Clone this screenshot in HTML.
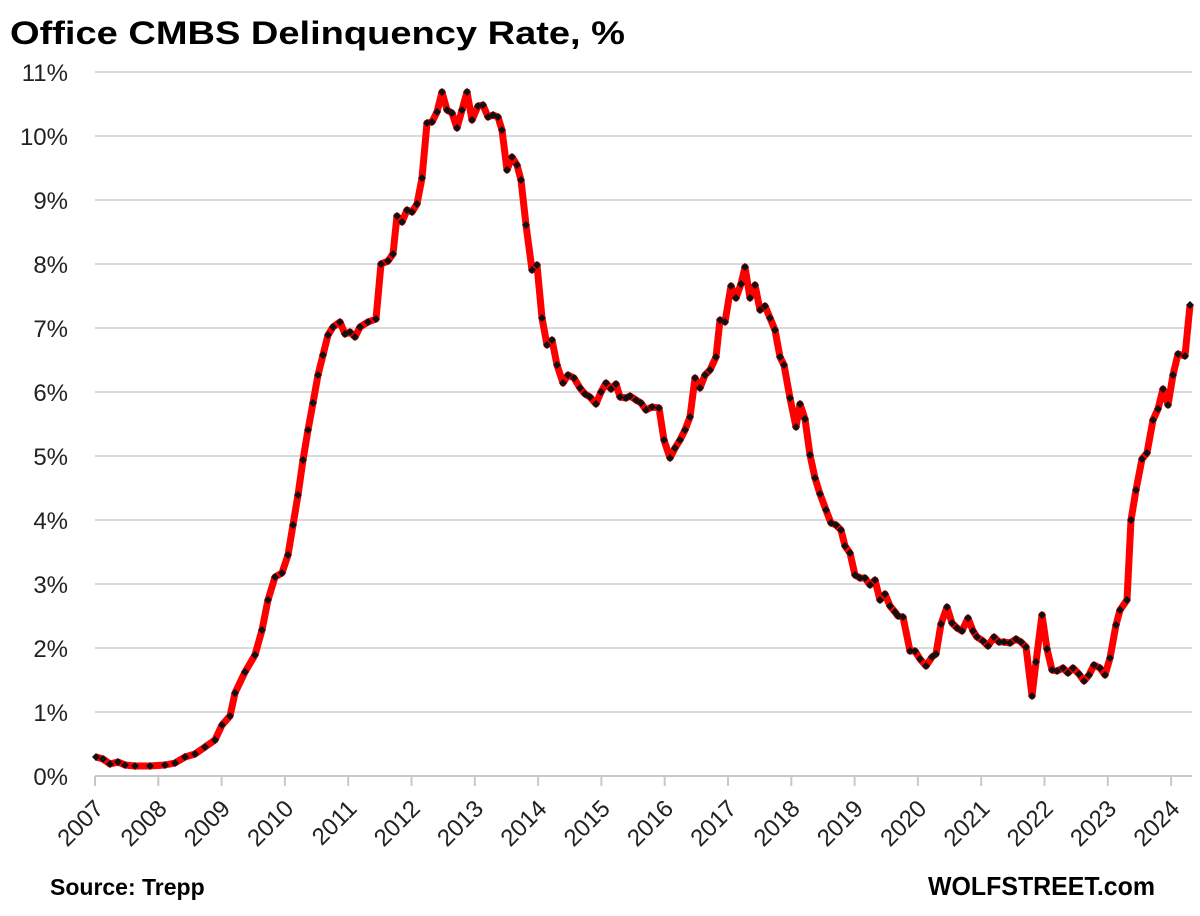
<!DOCTYPE html>
<html><head><meta charset="utf-8"><style>body{margin:0;background:#fff}svg{display:block}</style></head>
<body>
<svg id="c" width="1200" height="916" xmlns="http://www.w3.org/2000/svg" font-family="Liberation Sans, sans-serif">
<rect width="1200" height="916" fill="#fff"/>
<text x="10" y="44" font-size="32" font-weight="bold" fill="#000" textLength="615" lengthAdjust="spacingAndGlyphs">Office CMBS Delinquency Rate, %</text>
<g id="grid"></g>
<g id="lab" font-size="24" fill="#222"></g>
<path id="line" fill="none" stroke="#ff0000" stroke-width="7" stroke-linejoin="round"/>
<g id="mk" fill="#111"></g>
<text x="50" y="895" font-size="23" font-weight="bold">Source: Trepp</text>
<text x="1155" y="895" font-size="26" font-weight="bold" text-anchor="end" textLength="227" lengthAdjust="spacingAndGlyphs">WOLFSTREET.com</text>
</svg>
<script>
var ns="http://www.w3.org/2000/svg";
function el(t,a,p,txt){var e=document.createElementNS(ns,t);for(var k in a)e.setAttribute(k,a[k]);if(txt)e.textContent=txt;document.getElementById(p).appendChild(e);}
for(var i=0;i<=11;i++){var y=776-i*64;el("line",{x1:95,x2:1192,y1:y,y2:y,stroke:i==0?"#c8c8c8":"#d9d9d9","stroke-width":2},"grid");
el("text",{x:68,y:y+9,"text-anchor":"end"},"lab",i+"%");}
for(var j=0;j<=17;j++){var x=95+j*63.3;el("line",{x1:x,x2:x,y1:776,y2:786,stroke:"#c8c8c8","stroke-width":2},"grid");
el("text",{x:x+10,y:810,"text-anchor":"end",transform:"rotate(-45 "+(x+10)+" 810)"},"lab",String(2007+j));}
var P=[[96,757],[103,759],[110,764],[118,762],[125,765],[135,766],[150,766],[165,765],[175,763],[185,757],[195,754],[205,747],[215,740],[222,725],[230,716],[235,693],[245,672],[255,655],[262,630],[268,600],[275,577],[282,573],[288,555],[293,525],[298,495],[303,460],[308,430],[313,403],[318,375],[323,355],[328,335],[333,327],[340,322],[345,334],[350,332],[355,337],[360,327],[368,322],[376,319],[381,264],[388,261],[393,254],[397,216],[402,222],[407,210],[412,212],[417,204],[422,178],[427,123],[432,122],[437,112],[442,92],[447,110],[452,113],[457,128],[462,110],[467,92],[472,120],[478,106],[483,105],[488,117],[493,115],[498,117],[502,130],[507,170],[512,157],[517,165],[521,180],[526,225],[532,270],[537,265],[542,318],[547,345],[552,340],[557,365],[563,383],[568,375],[574,378],[580,388],[585,394],[590,397],[596,404],[601,392],[606,383],[611,389],[616,384],[620,397],[626,398],[630,396],[636,400],[641,403],[646,410],[652,407],[659,408],[664,440],[670,458],[675,448],[680,440],[685,430],[690,417],[695,378],[700,388],[705,375],[710,370],[716,357],[720,320],[725,322],[731,286],[736,298],[741,284],[745,267],[750,298],[755,285],[760,310],[765,306],[770,318],[775,330],[780,357],[784,365],[790,398],[796,427],[800,404],[805,419],[810,455],[815,478],[820,494],[826,510],[831,523],[836,525],[841,530],[845,546],[850,553],[855,575],[860,578],[865,578],[870,585],[875,580],[880,600],[885,594],[890,606],[895,612],[898,616],
[903,617],[910,651],[915,651],[920,659],[926,666],[932,657],[936,654],[941,624],[947,607],[952,623],[957,628],[962,631],[968,618],[973,631],[977,637],[983,641],[988,646],[994,637],[999,642],[1004,642],[1010,643],[1016,639],[1021,642],[1026,647],[1032,696],[1036,662],[1042,615],[1047,649],[1052,670],[1057,671],[1063,668],[1068,673],[1073,668],[1079,674],[1084,681],[1089,675],[1094,665],[1100,668],[1105,675],[1110,658],[1116,625],[1120,610],[1127,600],[1131,520],[1136,490],[1142,459],[1147,453],[1153,420],[1158,409],[1163,389],[1168,405],[1173,375],[1178,354],[1185,356],[1190,305]];
document.getElementById("line").setAttribute("d","M"+P.map(function(p){return p.join(",")}).join("L"));
P.forEach(function(p){el("path",{d:"M"+p[0]+","+(p[1]-4)+"l4,4l-4,4l-4,-4z"},"mk");});
</script>
</body></html>
